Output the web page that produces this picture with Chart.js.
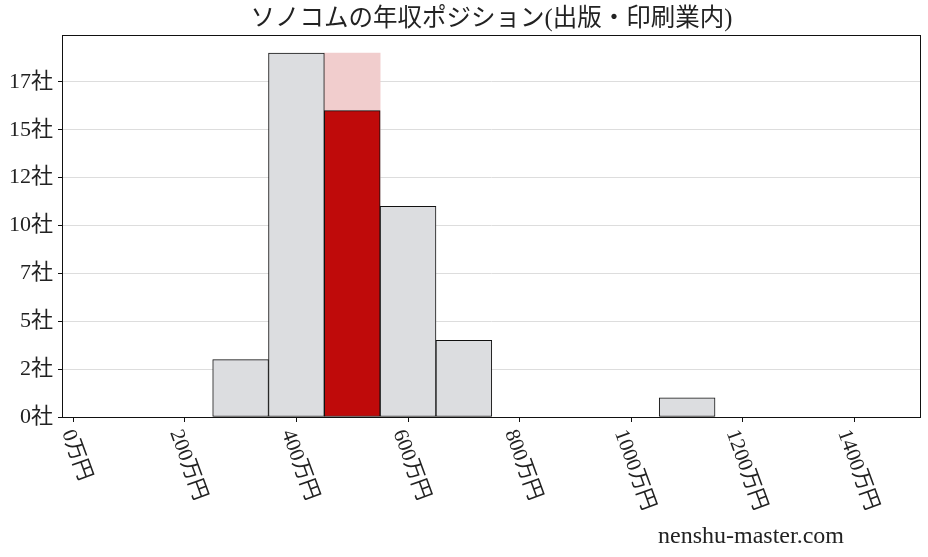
<!DOCTYPE html>
<html>
<head>
<meta charset="utf-8">
<script src="https://cdn.jsdelivr.net/npm/chart.js@4"></script>
<style>
  html, body { margin: 0; padding: 0; background: #fff; }
  #wrap { width: 928px; height: 557px; }
</style>
</head>
<body>
<div id="wrap"><canvas id="salaryChart"></canvas></div>
<script>
// bin centres (万円), bin width 100
const binCenters = [300, 400, 500, 600, 700, 1100];
const companyCounts = [3, 19, 16, 11, 4, 1];
const highlightBin = 500;
const highlightHeight = [19];
const xTickStep = 200;
const yTickStep = 2.5;

const FONT = "'Liberation Serif', 'Noto Sans CJK JP', serif";

document.addEventListener('DOMContentLoaded', function() {
    const ctx = document.getElementById('salaryChart').getContext('2d');

    const barColors = binCenters.map(function(c) {
        return c === highlightBin ? '#bf0a0a' : '#dcdde0';
    });

    // frame, rotated x labels, watermark
    const decorations = {
        id: 'decorations',
        afterDraw(chart) {
            const c = chart.ctx;
            const area = chart.chartArea;
            const xs = chart.scales.x;
            c.save();
            c.strokeStyle = '#111';
            c.lineWidth = 1;
            c.strokeRect(Math.round(area.left) + 0.5, Math.round(area.top) + 0.5,
                Math.round(area.right - area.left) - 1, Math.round(area.bottom - area.top));

            c.font = '21px ' + FONT;
            c.fillStyle = '#222';
            c.textAlign = 'center';
            c.textBaseline = 'middle';
            const ang = 70 * Math.PI / 180;
            xs.ticks.forEach(function(t) {
                const label = t.value + '万円';
                const w = c.measureText(label).width;
                const h = 21;
                const bh = w * Math.sin(ang) + h * Math.cos(ang);
                const px = xs.getPixelForValue(t.value);
                c.save();
                c.translate(px + 3, area.bottom + 10 + bh / 2);
                c.rotate(ang);
                c.fillText(label, 0, 0);
                c.restore();
            });

            c.font = '24px ' + FONT;
            c.fillStyle = '#222';
            c.fillText('nenshu-master.com', 751, 537);
            c.restore();
        }
    };

    new Chart(ctx, {
        type: 'bar',
        data: {
            datasets: [{
                label: '企業数',
                data: binCenters.map(function(c, i) { return { x: c, y: companyCounts[i] }; }),
                backgroundColor: barColors,
                borderColor: '#111',
                borderWidth: 1,
                borderSkipped: false,
                grouped: false,
                barPercentage: 1,
                categoryPercentage: 1,
                order: 1
            }, {
                label: 'ソノコム',
                data: [{ x: highlightBin, y: highlightHeight[0] }],
                backgroundColor: '#f1cdcd',
                borderWidth: 0,
                grouped: false,
                barPercentage: 1,
                categoryPercentage: 1,
                order: 2
            }]
        },
        options: {
            responsive: true,
            maintainAspectRatio: false,
            animation: false,
            layout: { padding: { left: 0, right: 7, top: 0, bottom: 0 } },
            plugins: {
                legend: { display: false },
                tooltip: { enabled: false },
                title: {
                    display: true,
                    fullSize: false,
                    text: 'ソノコムの年収ポジション(出版・印刷業内)',
                    color: '#222',
                    font: { family: FONT, size: 24.5, weight: 'normal', lineHeight: 1.2 },
                    padding: { top: 5, bottom: 0.6 }
                }
            },
            scales: {
                x: {
                    type: 'linear',
                    offset: false,
                    min: -20,
                    max: 1519,
                    ticks: { display: false, stepSize: xTickStep, includeBounds: false },
                    grid: { offset: false, drawOnChartArea: false, tickLength: 5, tickColor: '#111', color: '#111' },
                    border: { display: false },
                    afterFit(scale) { scale.height = 140; }
                },
                y: {
                    min: 0,
                    max: 19.95,
                    ticks: {
                        stepSize: yTickStep,
                        includeBounds: false,
                        padding: 5,
                        color: '#222',
                        font: { family: FONT, size: 22 },
                        callback: function(v) { return Math.floor(v) + '社'; }
                    },
                    grid: { color: '#dddddd', tickLength: 4, tickColor: '#111' },
                    border: { display: false },
                    afterFit(scale) { scale.width = 62; }
                }
            }
        },
        plugins: [decorations]
    });
});
</script>
</body>
</html>
